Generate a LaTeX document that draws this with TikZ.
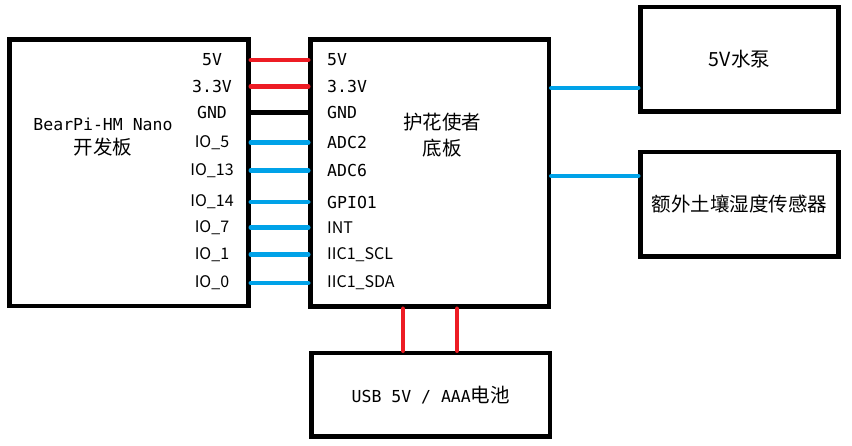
\documentclass[tikz,border=0pt]{standalone}
\usepackage{fontspec}
\setmainfont{Noto Sans CJK SC}
\newfontfamily\pinmono{DejaVu Sans Mono}
\definecolor{wirered}{RGB}{237,28,36}
\definecolor{wireblue}{RGB}{0,162,232}

\begin{document}
\begin{tikzpicture}[x=1pt, y=-1pt,
  box/.style = {draw, line width=4.5pt, inner sep=0pt, align=center, font=\fontsize{19.5}{26}\selectfont},
  pin/.style = {inner sep=0pt, font=\fontsize{16}{19}\selectfont},
  monopin/.style = {inner sep=0pt, font=\fontsize{16.5}{19}\pinmono},
  redwire/.style = {draw=wirered, line width=4.5pt, line cap=round},
  bluewire/.style = {draw=wireblue, line width=4.5pt, line cap=round},
  gndwire/.style = {draw=black, line width=4.5pt}]

\useasboundingbox (0, 0) rectangle (852, 446);

\node[box, minimum width=239pt, minimum height=266.5pt] (bear) at (129, 172.75) {};
\node[box, minimum width=238.5pt, minimum height=267pt] (base) at (429.75, 173) {};
\node[box, minimum width=198pt, minimum height=104.5pt] (pump) at (739.5, 59.25) {5V水泵};
\node[box, minimum width=198pt, minimum height=104.5pt] (sensor) at (739.5, 204.25) {额外土壤湿度传感器};
\node[box, minimum width=238.5pt, minimum height=83.5pt] (power) at (430.75, 394.75) {{\fontsize{16.5}{19}\pinmono USB 5V / AAA}电池};

\node[align=center, inner sep=0pt, font=\fontsize{19.5}{24}\selectfont] (beartext) at (103, 137)
  {{\fontsize{16.5}{19}\pinmono BearPi-HM Nano}\\开发板};
\node[align=center, inner sep=0pt, font=\fontsize{19.5}{26}\selectfont] (basetext) at (442, 135) {护花使者\\底板};

\node[monopin] (l5v) at (212, 60) {5V};
\node[monopin] (l33v) at (212, 86.5) {3.3V};
\node[monopin] (lgnd) at (212, 112.5) {GND};
\node[pin] (lio5) at (212, 142.5) {IO\_5};
\node[pin] (lio13) at (212, 170.5) {IO\_13};
\node[pin] (lio14) at (212, 202) {IO\_14};
\node[pin] (lio7) at (212, 227.5) {IO\_7};
\node[pin] (lio1) at (212, 254.5) {IO\_1};
\node[pin] (lio0) at (212, 283) {IO\_0};

\node[monopin, anchor=west] (r5v) at (327, 60) {5V};
\node[monopin, anchor=west] (r33v) at (327, 86.5) {3.3V};
\node[monopin, anchor=west] (rgnd) at (327, 112.5) {GND};
\node[monopin, anchor=west] (radc2) at (327, 142.5) {ADC2};
\node[monopin, anchor=west] (radc6) at (327, 170.5) {ADC6};
\node[monopin, anchor=west] (rgpio) at (327, 202) {GPIO1};
\node[pin, anchor=west] (rint) at (327, 227.5) {INT};
\node[pin, anchor=west] (rscl) at (327, 254.5) {IIC1\_SCL};
\node[pin, anchor=west] (rsda) at (327, 283) {IIC1\_SDA};

\draw[redwire] (bear.east |- l5v) -- (base.west |- l5v);
\draw[redwire] (bear.east |- l33v) -- (base.west |- l33v);
\draw[gndwire] (bear.east |- lgnd) -- (base.west |- lgnd);
\draw[bluewire] (bear.east |- lio5) -- (base.west |- lio5);
\draw[bluewire] (bear.east |- lio13) -- (base.west |- lio13);
\draw[bluewire] (bear.east |- lio14) -- (base.west |- lio14);
\draw[bluewire] (bear.east |- lio7) -- (base.west |- lio7);
\draw[bluewire] (bear.east |- lio1) -- (base.west |- lio1);
\draw[bluewire] (bear.east |- lio0) -- (base.west |- lio0);

\coordinate (pumpin) at (640, 88);
\coordinate (sensorin) at (640, 176);
\draw[bluewire] (base.east |- pumpin) -- (pump.west |- pumpin);
\draw[bluewire] (base.east |- sensorin) -- (sensor.west |- sensorin);

\coordinate (vcc) at (403, 330);
\coordinate (vss) at (457, 330);
\draw[redwire] (base.south -| vcc) -- (power.north -| vcc);
\draw[redwire] (base.south -| vss) -- (power.north -| vss);
\end{tikzpicture}
\end{document}
